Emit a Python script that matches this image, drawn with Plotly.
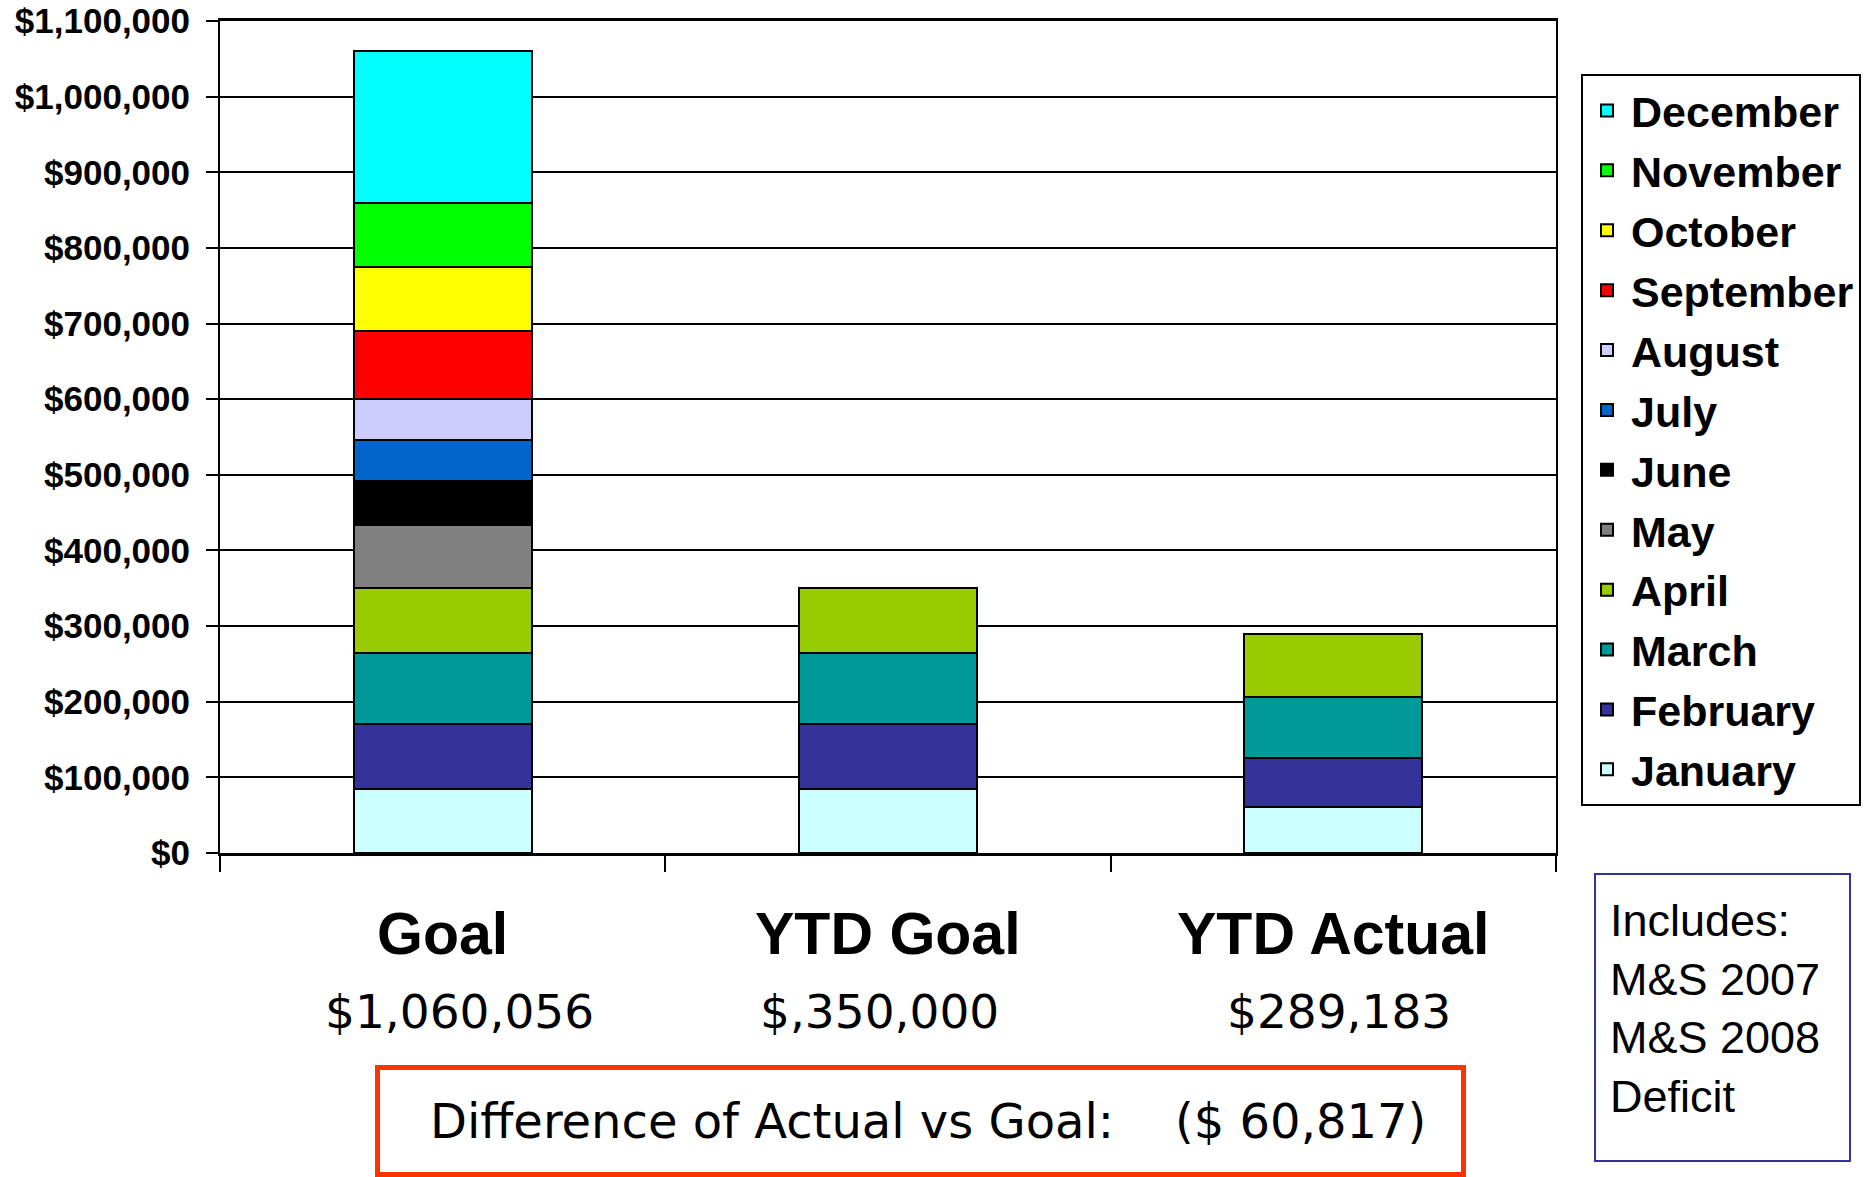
import plotly.graph_objects as go

# ---------------- data ----------------
categories = ["Goal", "YTD Goal", "YTD Actual"]
months = ["January", "February", "March", "April", "May", "June",
          "July", "August", "September", "October", "November", "December"]

goal_values = [85000, 85000, 95000, 85000, 83000, 59000,
               54000, 54500, 89000, 85000, 85000, 200556]
ytd_goal_values = [85000, 85000, 95000, 85000]
ytd_actual_values = [61000, 65000, 80000, 83183]

total_labels = ["$1,060,056", "$,350,000", "$289,183"]
difference_label = "($ 60,817)"
note_lines = ["Includes:", "M&S 2007", "M&S 2008", "Deficit"]

month_colors = ["#CCFFFF", "#333399", "#009999", "#99CC00", "#808080", "#000000",
                "#0066CC", "#CCCCFF", "#FF0000", "#FFFF00", "#00FF00", "#00FFFF"]

# ---------------- figure ----------------
W, H = 1865, 1177
ML, MR, MT, MB = 220, 309, 21, 324
PW = W - ML - MR
PH = H - MT - MB


def px_to_paper_x(px):
    return (px - ML) / PW


def px_to_paper_y(py):
    return (H - MB - py) / PH


fig = go.Figure()
n = len(months)
for i, m in enumerate(months):
    vals = [goal_values[i],
            ytd_goal_values[i] if i < len(ytd_goal_values) else None,
            ytd_actual_values[i] if i < len(ytd_actual_values) else None]
    fig.add_trace(go.Bar(
        x=categories, y=vals, name=m, legendgroup=m, legendrank=n - i,
        marker=dict(color=month_colors[i], line=dict(color="black", width=2)),
        hoverinfo="skip",
    ))

fig.update_layout(
    width=W, height=H,
    margin=dict(l=ML, r=MR, t=MT, b=MB, pad=0, autoexpand=False),
    barmode="stack",
    bargap=0.6,
    plot_bgcolor="white",
    paper_bgcolor="white",
    showlegend=True,
    legend=dict(
        x=px_to_paper_x(1581), y=px_to_paper_y(74),
        xanchor="left", yanchor="top",
        traceorder="grouped", tracegroupgap=1,
        itemwidth=38,
        font=dict(family="Liberation Sans, Arial", size=43, color="black", weight="bold"),
        bordercolor="black", borderwidth=2, bgcolor="white",
    ),
)

fig.update_xaxes(
    type="category",
    automargin=False,
    showgrid=False,
    showticklabels=False,
    ticks="outside", tickson="boundaries", ticklen=16, tickwidth=2, tickcolor="black",
    showline=True, linecolor="black", linewidth=3, mirror=True,
)
fig.update_yaxes(
    automargin=False,
    range=[0, 1100000], tick0=0, dtick=100000,
    tickprefix="$", tickformat=",d",
    tickfont=dict(family="Liberation Sans, Arial", size=35, color="black", weight="bold"),
    ticklabelstandoff=9,
    showgrid=True, gridcolor="black", gridwidth=2,
    zeroline=False,
    ticks="outside", ticklen=12, tickwidth=2, tickcolor="black",
    showline=True, linecolor="black", linewidth=2, mirror=True,
)

# category names and totals below the axis
value_shifts = [17, -9, 6]
for cat, lab, sh in zip(categories, total_labels, value_shifts):
    fig.add_annotation(
        x=cat, xref="x", y=px_to_paper_y(934), yref="paper",
        text="<b>" + cat + "</b>", showarrow=False, yanchor="middle",
        font=dict(family="Liberation Sans, Arial", size=59, color="black"),
    )
    fig.add_annotation(
        x=cat, xref="x", y=px_to_paper_y(1011), yref="paper", xshift=sh,
        text=lab, showarrow=False, yanchor="middle",
        font=dict(family="DejaVu Sans", size=47, color="black"),
    )

# red difference box
fig.add_annotation(
    x=px_to_paper_x(920.5), xref="paper", y=px_to_paper_y(1121), yref="paper",
    xanchor="center", yanchor="middle",
    text="\u00a0Difference of Actual vs Goal:\u00a0\u00a0\u00a0\u00a0" + difference_label,
    showarrow=False, width=1081, height=102,
    bordercolor="#FF3300", borderwidth=5, borderpad=0, bgcolor="white",
    font=dict(family="DejaVu Sans", size=48, color="black"),
)

# blue note box (frame) and its text
fig.add_annotation(
    x=px_to_paper_x(1722.5), xref="paper", y=px_to_paper_y(1017.5), yref="paper",
    xanchor="center", yanchor="middle",
    text="\u00a0", showarrow=False, width=253, height=285,
    bordercolor="#333399", borderwidth=2, borderpad=0, bgcolor="white",
    font=dict(family="Liberation Sans, Arial", size=10, color="black"),
)
fig.add_annotation(
    x=px_to_paper_x(1608), xref="paper", y=px_to_paper_y(1008), yref="paper",
    xanchor="left", yanchor="middle",
    text="<br>".join(note_lines), align="left",
    showarrow=False,
    font=dict(family="Liberation Sans, Arial", size=45, color="black"),
)

fig.write_html("out.html", config={"displayModeBar": False},
               post_script="document.body.style.margin='0';")
